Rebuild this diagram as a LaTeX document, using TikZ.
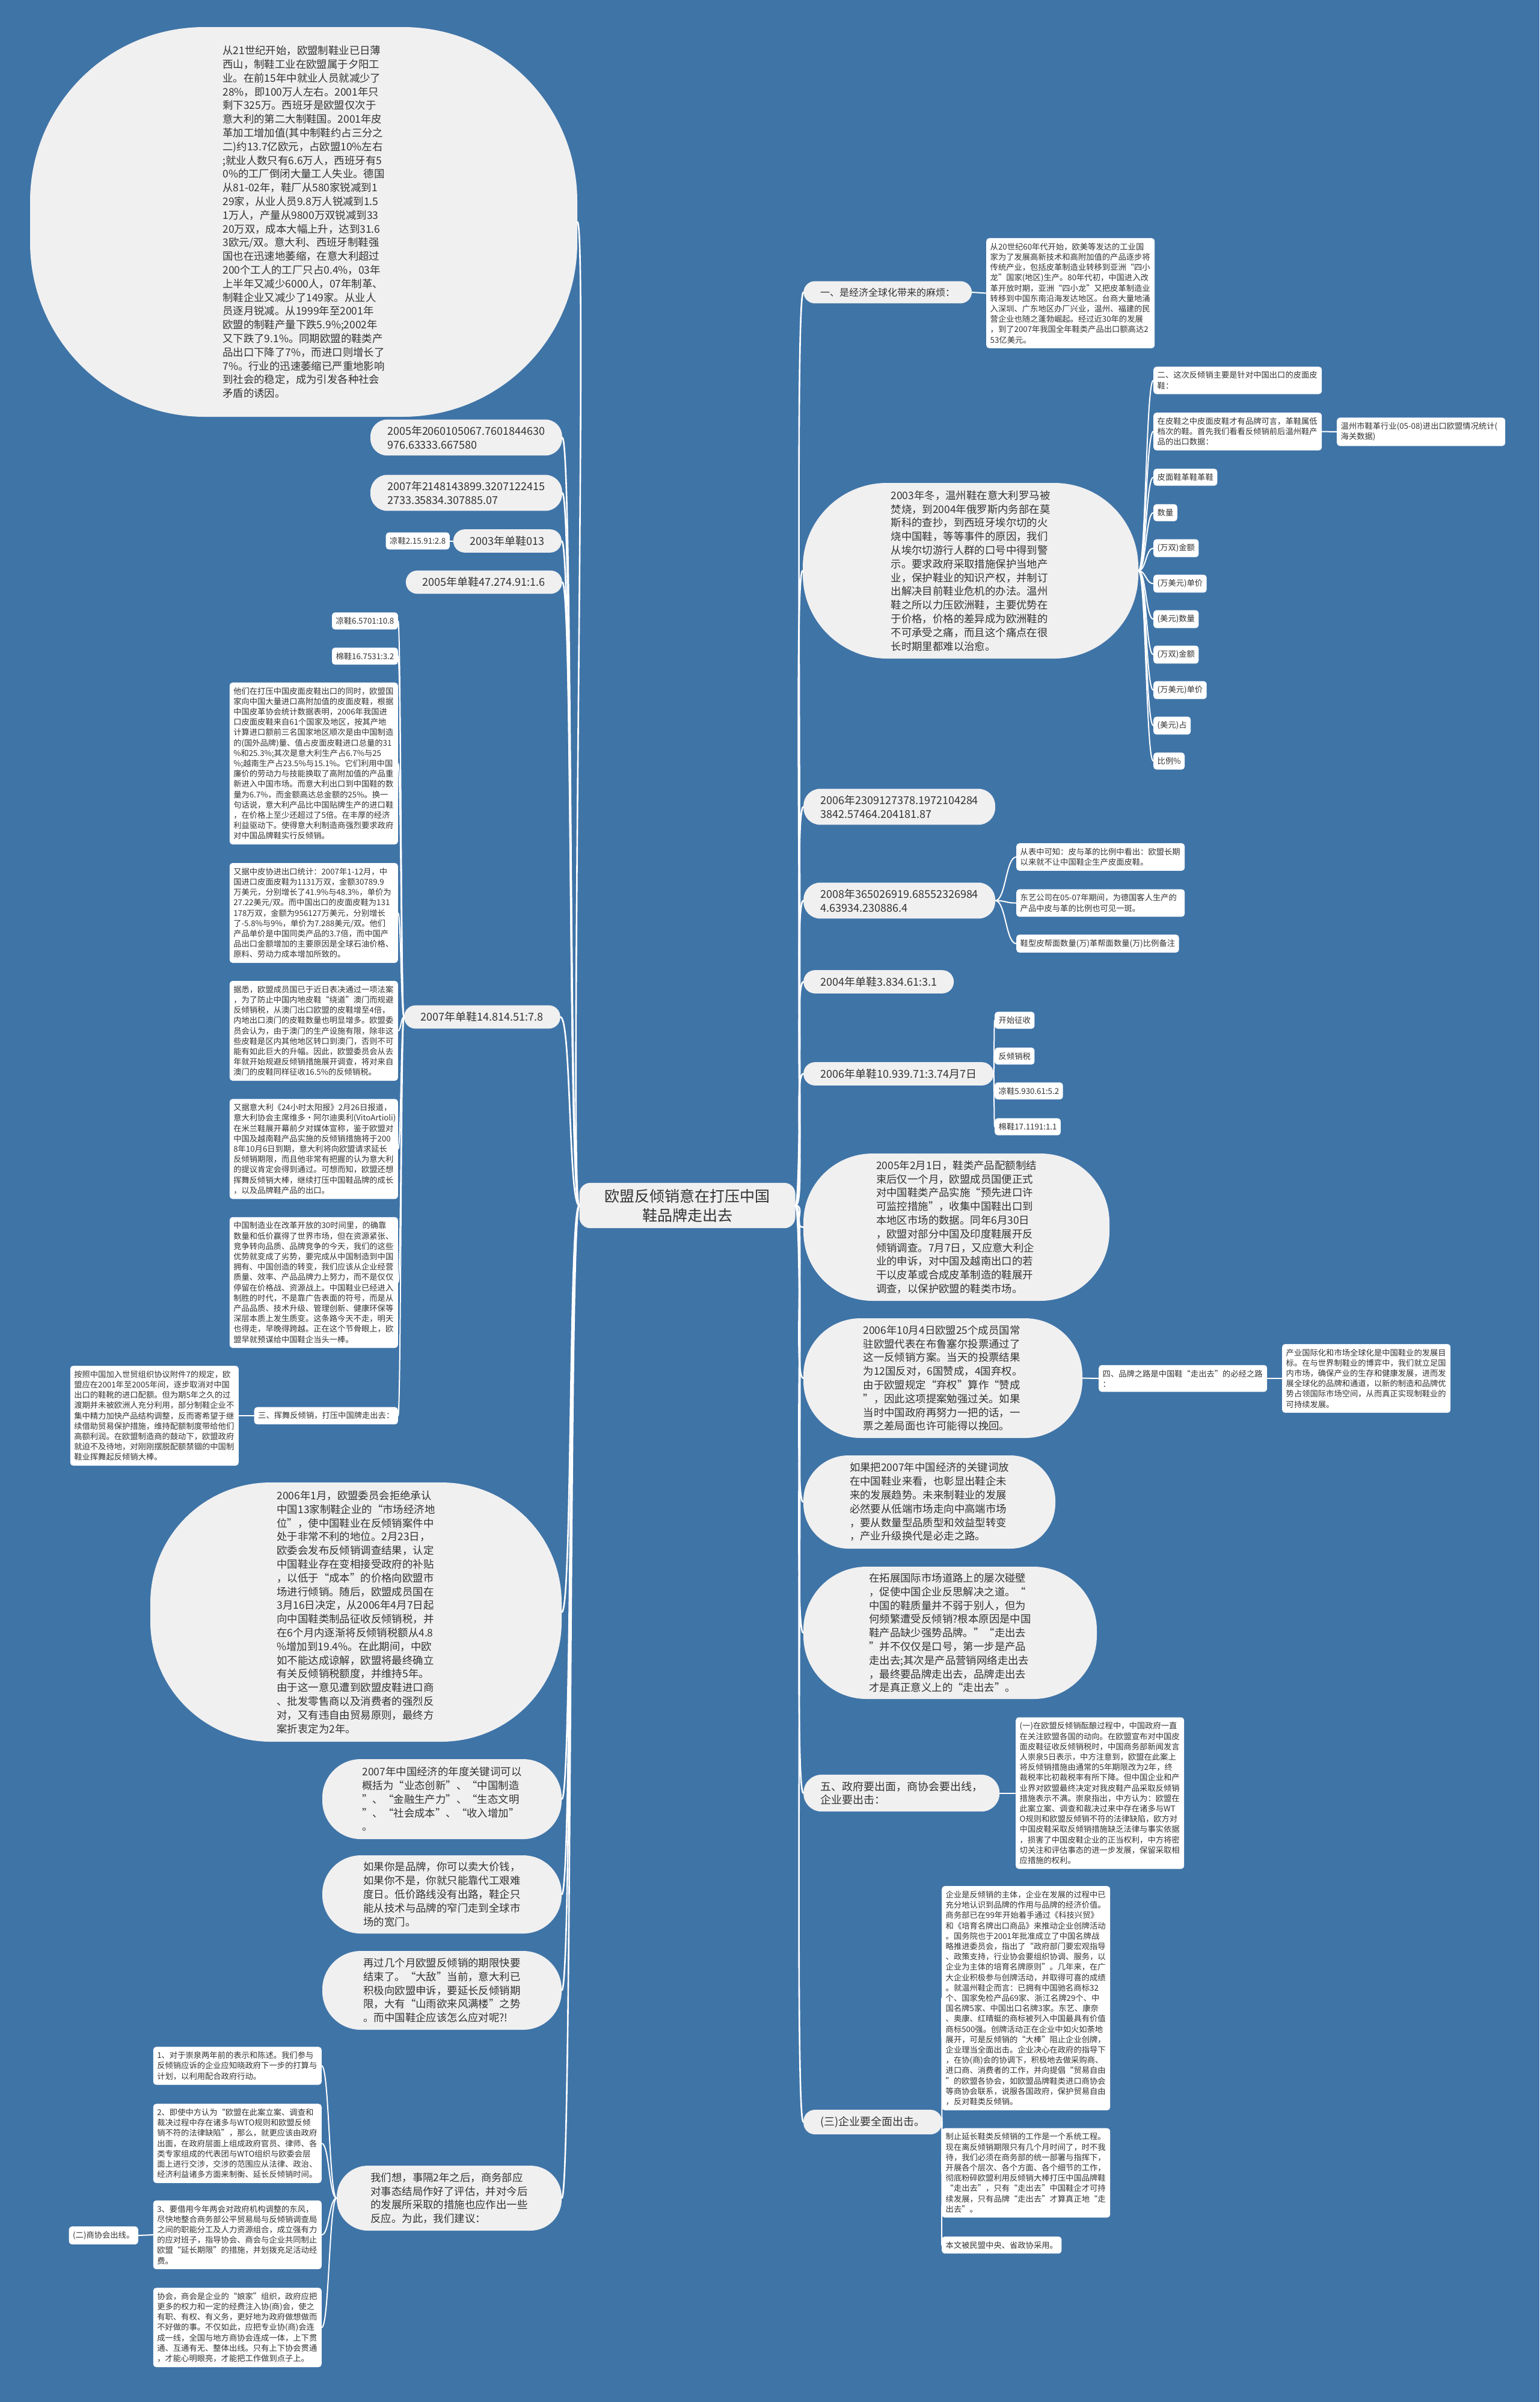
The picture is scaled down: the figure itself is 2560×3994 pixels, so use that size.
\documentclass[tikz,border=0pt]{standalone}
\usepackage{fontspec}
\setmainfont{Noto Sans CJK SC}
\usetikzlibrary{calc}
\definecolor{bgblue}{RGB}{63,116,167}
\definecolor{nodegray}{RGB}{240,240,240}
\definecolor{inkgray}{RGB}{51,51,51}

\begin{document}
\begin{tikzpicture}[x=1pt,y=-1pt,line cap=round,line join=round,
  every node/.style={text=inkgray,inner sep=0pt},
  root/.style={fill=nodegray,rounded corners=18pt,align=center,inner xsep=42pt,inner ysep=10pt,font=\fontsize{25}{32}\selectfont},
  pill/.style={fill=nodegray,rounded corners=19pt,align=left,inner xsep=28pt,inner ysep=11pt,font=\fontsize{18}{22.5}\selectfont},
  blob/.style={fill=nodegray,align=left,font=\fontsize{17.4}{22.8}\selectfont},
  leaf/.style={fill=white,rounded corners=5pt,align=left,inner xsep=6.5pt,inner ysep=8pt,font=\fontsize{13.3}{17.2}\selectfont},
  note/.style={leaf,text width=267pt},
  link/.style={draw=white,line width=2.6pt},
  twig/.style={draw=white,line width=2pt}]
\fill[bgblue] (0,0) rectangle (2560,3994);
\useasboundingbox (0,0) rectangle (2560,3994);

% centre
\node[root] (root) at (1143,2004.5) {欧盟反倾销意在打压中国\\鞋品牌走出去};

% right side
\node[pill,anchor=west,font=\fontsize{16}{20}\selectfont] (r1) at (1336,486) {一、是经济全球化带来的麻烦：};
\node[note,anchor=west] (r1a) at (1640,487.5) {从20世纪60年代开始，欧美等发达的工业国\\家为了发展高新技术和高附加值的产品逐步将\\传统产业，包括皮革制造业转移到亚洲“四小\\龙”国家(地区)生产。80年代初，中国进入改\\革开放时期，亚洲“四小龙”又把皮革制造业\\转移到中国东南沿海发达地区。台商大量地涌\\入深圳、广东地区办厂兴业，温州、福建的民\\营企业也随之蓬勃崛起。经过近30年的发展\\，到了2007年我国全年鞋类产品出口额高达2\\53亿美元。};

\node[blob,rounded corners=140pt,minimum width=558pt,minimum height=292pt] (r2) at (1614,949) {2003年冬，温州鞋在意大利罗马被\\焚烧，到2004年俄罗斯内务部在莫\\斯科的查抄，到西班牙埃尔切的火\\烧中国鞋，等等事件的原因，我们\\从埃尔切游行人群的口号中得到警\\示。要求政府采取措施保护当地产\\业，保护鞋业的知识产权，并制订\\出解决目前鞋业危机的办法。温州\\鞋之所以力压欧洲鞋，主要优势在\\于价格，价格的差异成为欧洲鞋的\\不可承受之痛，而且这个痛点在很\\长时期里都难以治愈。};
\node[note,anchor=west] (r2a) at (1918,632.5) {二、这次反倾销主要是针对中国出口的皮面皮\\鞋：};
\node[note,anchor=west] (r2b) at (1918,717.5) {在皮鞋之中皮面皮鞋才有品牌可言，革鞋属低\\档次的鞋。首先我们看看反倾销前后温州鞋产\\品的出口数据：};
\node[note,anchor=west] (r2b1) at (2223,718) {温州市鞋革行业(05-08)进出口欧盟情况统计(\\海关数据)};
\foreach \txt [count=\i] in {皮面鞋革鞋革鞋,数量,{(万双)金额},{(万美元)单价},{(美元)数量},{(万双)金额},{(万美元)单价},{(美元)占},比例\%}
{
  \node[leaf,anchor=west] (r2-\i) at (1918,{734.5+59*\i}) {\txt};
  \draw[twig] let \p1=(r2.east), \p2=(r2-\i.west) in (\p1) .. controls ({0.5*\x1+0.5*\x2},\y1) and ({0.5*\x1+0.5*\x2},\y2) .. (\p2);
}

\node[pill,anchor=west,rounded corners=28pt] (r3) at (1336,1341.5) {2006年2309127378.1972104284\\3842.57464.204181.87};
\node[pill,anchor=west,rounded corners=28pt] (r4) at (1336,1497.5) {2008年365026919.68552326984\\4.63934.230886.4};
\node[note,anchor=west] (r4a) at (1690,1425) {从表中可知：皮与革的比例中看出：欧盟长期\\以来就不让中国鞋企生产皮面皮鞋。};
\node[note,anchor=west] (r4b) at (1690,1501.5) {东艺公司在05-07年期间，为德国客人生产的\\产品中皮与革的比例也可见一斑。};
\node[leaf,anchor=west] (r4c) at (1690,1569) {鞋型皮帮面数量(万)革帮面数量(万)比例备注};
\node[pill,anchor=west] (r5) at (1336,1632.5) {2004年单鞋3.834.61:3.1};
\node[pill,anchor=west] (r6) at (1336,1785.5) {2006年单鞋10.939.71:3.74月7日};
\node[leaf,anchor=west] (r6a) at (1654,1696.5) {开始征收};
\node[leaf,anchor=west] (r6b) at (1654,1756) {反倾销税};
\node[leaf,anchor=west] (r6c) at (1654,1814) {凉鞋5.930.61:5.2};
\node[leaf,anchor=west] (r6d) at (1654,1873.5) {棉鞋17.1191:1.1};

\node[blob,rounded corners=115pt,minimum width=509pt,minimum height=245pt] (r7) at (1590.5,2040.5) {2005年2月1日，鞋类产品配额制结\\束后仅一个月，欧盟成员国便正式\\对中国鞋类产品实施“预先进口许\\可监控措施”，收集中国鞋出口到\\本地区市场的数据。同年6月30日\\，欧盟对部分中国及印度鞋展开反\\倾销调查。7月7日，又应意大利企\\业的申诉，对中国及越南出口的若\\干以皮革或合成皮革制造的鞋展开\\调查，以保护欧盟的鞋类市场。};
\node[blob,rounded corners=95pt,minimum width=464pt,minimum height=199pt] (r8) at (1568,2291.5) {2006年10月4日欧盟25个成员国常\\驻欧盟代表在布鲁塞尔投票通过了\\这一反倾销方案。当天的投票结果\\为12国反对，6国赞成，4国弃权。\\由于欧盟规定“弃权”算作“赞成\\”，因此这项提案勉强过关。如果\\当时中国政府再努力一把的话，一\\票之差局面也许可能得以挽回。};
\node[note,anchor=west] (r8a) at (1827,2292) {四、品牌之路是中国鞋“走出去”的必经之路\\：};
\node[note,anchor=west] (r8b) at (2132,2292) {产业国际化和市场全球化是中国鞋业的发展目\\标。在与世界制鞋业的博弈中，我们就立足国\\内市场，确保产业的生存和健康发展，进而发\\展全球化的品牌和通道，以新的制造和品牌优\\势占领国际市场空间，从而真正实现制鞋业的\\可持续发展。};
\node[blob,rounded corners=75pt,minimum width=419pt,minimum height=155pt] (r9) at (1545.5,2497.5) {如果把2007年中国经济的关键词放\\在中国鞋业来看，也彰显出鞋企未\\来的发展趋势。未来制鞋业的发展\\必然要从低端市场走向中高端市场\\，要从数量型品质型和效益型转变\\，产业升级换代是必走之路。};
\node[blob,rounded corners=105pt,minimum width=488pt,minimum height=220pt] (r10) at (1580,2715) {在拓展国际市场道路上的屡次碰壁\\，促使中国企业反思解决之道。“\\中国的鞋质量并不弱于别人，但为\\何频繁遭受反倾销?根本原因是中国\\鞋产品缺少强势品牌。”“走出去\\”并不仅仅是口号，第一步是产品\\走出去;其次是产品营销网络走出去\\，最终要品牌走出去，品牌走出去\\才是真正意义上的“走出去”。};
\node[pill,anchor=west,rounded corners=30pt] (r11) at (1336,2981.5) {五、政府要出面，商协会要出线，\\企业要出击：};
\node[note,anchor=west] (r11a) at (1689,2981.5) {(一)在欧盟反倾销酝酿过程中，中国政府一直\\在关注欧盟各国的动向。在欧盟宣布对中国皮\\面皮鞋征收反倾销税时，中国商务部新闻发言\\人崇泉5日表示，中方注意到，欧盟在此案上\\将反倾销措施由通常的5年期限改为2年，终\\裁税率比初裁税率有所下降。但中国企业和产\\业界对欧盟最终决定对我皮鞋产品采取反倾销\\措施表示不满。崇泉指出，中方认为：欧盟在\\此案立案、调查和裁决过来中存在诸多与WT\\O规则和欧盟反倾销不符的法律缺陷，欧方对\\中国皮鞋采取反倾销措施缺乏法律与事实依据\\，损害了中国皮鞋企业的正当权利，中方将密\\切关注和评估事态的进一步发展，保留采取相\\应措施的权利。};
\node[pill,anchor=west] (r12) at (1336,3528.5) {(三)企业要全面出击。};
\node[note,anchor=west] (r12a) at (1566,3322.5) {企业是反倾销的主体，企业在发展的过程中已\\充分地认识到品牌的作用与品牌的经济价值。\\商务部已在99年开始着手通过《科技兴贸》\\和《培育名牌出口商品》来推动企业创牌活动\\。国务院也于2001年批准成立了中国名牌战\\略推进委员会，指出了“政府部门要宏观指导\\、政策支持，行业协会要组织协调、服务，以\\企业为主体的培育名牌原则”。几年来，在广\\大企业积极参与创牌活动，并取得可喜的成绩\\。就温州鞋企而言：已拥有中国驰名商标32\\个、国家免检产品69家、浙江名牌29个、中\\国名牌5家、中国出口名牌3家。东艺、康奈\\、奥康、红晴蜓的商标被列入中国最具有价值\\商标500强。创牌活动正在企业中如火如荼地\\展开，可是反倾销的“大棒”阻止企业创牌，\\企业理当全面出击。企业决心在政府的指导下\\，在协(商)会的协调下，积极地去做采购商、\\进口商、消费者的工作，并向提倡“贸易自由\\”的欧盟各协会，如欧盟品牌鞋类进口商协会\\等商协会联系，说服各国政府，保护贸易自由\\，反对鞋类反倾销。};
\node[note,anchor=west] (r12b) at (1566,3613) {制止延长鞋类反倾销的工作是一个系统工程。\\现在离反倾销期限只有几个月时间了，时不我\\待，我们必须在商务部的统一部署与指挥下，\\开展各个层次、各个方面、各个细节的工作，\\彻底粉碎欧盟利用反倾销大棒打压中国品牌鞋\\“走出去”，只有“走出去”中国鞋企才可持\\续发展，只有品牌“走出去”才算真正地“走\\出去”。};
\node[leaf,anchor=west] (r12c) at (1566,3733) {本文被民盟中央、省政协采用。};

% left side
\node[blob,rounded corners=290pt,minimum width=910pt,minimum height=648pt] (l1) at (505,369) {从21世纪开始，欧盟制鞋业已日薄\\西山，制鞋工业在欧盟属于夕阳工\\业。在前15年中就业人员就减少了\\28\%，即100万人左右。2001年只\\剩下325万。西班牙是欧盟仅次于\\意大利的第二大制鞋国。2001年皮\\革加工增加值(其中制鞋约占三分之\\二)约13.7亿欧元，占欧盟10\%左右\\;就业人数只有6.6万人，西班牙有5\\0\%的工厂倒闭大量工人失业。德国\\从81-02年，鞋厂从580家锐减到1\\29家，从业人员9.8万人锐减到1.5\\1万人，产量从9800万双锐减到33\\20万双，成本大幅上升，达到31.6\\3欧元/双。意大利、西班牙制鞋强\\国也在迅速地萎缩，在意大利超过\\200个工人的工厂只占0.4\%，03年\\上半年又减少6000人，07年制革、\\制鞋企业又减少了149家。从业人\\员逐月锐减。从1999年至2001年\\欧盟的制鞋产量下跌5.9\%;2002年\\又下跌了9.1\%。同期欧盟的鞋类产\\品出口下降了7\%，而进口则增长了\\7\%。行业的迅速萎缩已严重地影响\\到社会的稳定，成为引发各种社会\\矛盾的诱因。};
\node[pill,anchor=east,rounded corners=28pt] (l2) at (935,727.5) {2005年2060105067.7601844630\\976.63333.667580};
\node[pill,anchor=east,rounded corners=28pt] (l3) at (935,819.5) {2007年2148143899.3207122415\\2733.35834.307885.07};
\node[pill,anchor=east] (l4) at (934,899.5) {2003年单鞋013};
\node[leaf,anchor=east] (l4a) at (748,899.5) {凉鞋2.15.91:2.8};
\node[pill,anchor=east] (l5) at (935,968) {2005年单鞋47.274.91:1.6};
\node[pill,anchor=east] (l6) at (932,1691) {2007年单鞋14.814.51:7.8};
\node[leaf,anchor=east] (l6a) at (662,1032.5) {凉鞋6.5701:10.8};
\node[leaf,anchor=east] (l6b) at (662,1091) {棉鞋16.7531:3.2};
\node[note,anchor=east] (l6c) at (662,1269.5) {他们在打压中国皮面皮鞋出口的同时，欧盟国\\家向中国大量进口高附加值的皮面皮鞋，根据\\中国皮革协会统计数据表明，2006年我国进\\口皮面皮鞋来自61个国家及地区，按其产地\\计算进口额前三名国家地区顺次是由中国制造\\的(国外品牌)量、值占皮面皮鞋进口总量的31\\\%和25.3\%;其次是意大利生产占6.7\%与25\\\%;越南生产占23.5\%与15.1\%。它们利用中国\\廉价的劳动力与技能换取了高附加值的产品重\\新进入中国市场。而意大利出口到中国鞋的数\\量为6.7\%，而金额高达总金额的25\%。换一\\句话说，意大利产品比中国贴牌生产的进口鞋\\，在价格上至少还超过了5倍。在丰厚的经济\\利益驱动下。使得意大利制造商强烈要求政府\\对中国品牌鞋实行反倾销。};
\node[note,anchor=east] (l6d) at (662,1518) {又据中皮协进出口统计：2007年1-12月，中\\国进口皮面皮鞋为1131万双，金额30789.9\\万美元，分别增长了41.9\%与48.3\%，单价为\\27.22美元/双。而中国出口的皮面皮鞋为131\\178万双，金额为956127万美元，分别增长\\了-5.8\%与9\%，单价为7.288美元/双。他们\\产品单价是中国同类产品的3.7倍，而中国产\\品出口金额增加的主要原因是全球石油价格、\\原料、劳动力成本增加所致的。};
\node[note,anchor=east] (l6e) at (662,1714) {据悉，欧盟成员国已于近日表决通过一项法案\\，为了防止中国内地皮鞋“绕道”澳门而规避\\反倾销税，从澳门出口欧盟的皮鞋增至4倍，\\内地出口澳门的皮鞋数量也明显增多。欧盟委\\员会认为，由于澳门的生产设施有限，除非这\\些皮鞋是区内其他地区转口到澳门，否则不可\\能有如此巨大的升幅。因此，欧盟委员会从去\\年就开始规避反倾销措施展开调查，将对来自\\澳门的皮鞋同样征收16.5\%的反倾销税。};
\node[note,anchor=east] (l6f) at (662,1910.5) {又据意大利《24小时太阳报》2月26日报道，\\意大利协会主席维多·阿尔迪奥利(VitoArtioli)\\在米兰鞋展开幕前夕对媒体宣称，鉴于欧盟对\\中国及越南鞋产品实施的反倾销措施将于200\\8年10月6日到期，意大利将向欧盟请求延长\\反倾销期限，而且他非常有把握的认为意大利\\的提议肯定会得到通过。可想而知，欧盟还想\\挥舞反倾销大棒，继续打压中国鞋品牌的成长\\，以及品牌鞋产品的出口。};
\node[note,anchor=east] (l6g) at (662,2132.5) {中国制造业在改革开放的30时间里，的确靠\\数量和低价赢得了世界市场，但在资源紧张、\\竞争转向品质、品牌竞争的今天，我们的这些\\优势就变成了劣势，要完成从中国制造到中国\\拥有、中国创造的转变，我们应该从企业经营\\质量、效率、产品品牌力上努力，而不是仅仅\\停留在价格战、资源战上。中国鞋业已经进入\\制胜的时代，不是靠广告表面的符号，而是从\\产品品质、技术升级、管理创新、健康环保等\\深层本质上发生质变。这条路今天不走，明天\\也得走，早晚得跨越。正在这个节骨眼上，欧\\盟早就预谋给中国鞋企当头一棒。};
\node[leaf,anchor=east] (l6h) at (662,2354) {三、挥舞反倾销，打压中国牌走出去：};
\node[note,anchor=east] (l6h1) at (397,2354) {按照中国加入世贸组织协议附件7的规定，欧\\盟应在2001年至2005年间，逐步取消对中国\\出口的鞋靴的进口配额。但为期5年之久的过\\渡期并未被欧洲人充分利用，部分制鞋企业不\\集中精力加快产品结构调整，反而寄希望于继\\续借助贸易保护措施，维持配额制度带给他们\\高额利润。在欧盟制造商的鼓动下，欧盟政府\\就迫不及待地，对刚刚摆脱配额禁锢的中国制\\鞋业挥舞起反倾销大棒。};

\node[blob,rounded corners=200pt,minimum width=684pt,minimum height=431pt] (e1) at (592,2680.5) {2006年1月，欧盟委员会拒绝承认\\中国13家制鞋企业的“市场经济地\\位”，使中国鞋业在反倾销案件中\\处于非常不利的地位。2月23日，\\欧委会发布反倾销调查结果，认定\\中国鞋业存在变相接受政府的补贴\\，以低于“成本”的价格向欧盟市\\场进行倾销。随后，欧盟成员国在\\3月16日决定，从2006年4月7日起\\向中国鞋类制品征收反倾销税，并\\在6个月内逐渐将反倾销税额从4.8\\\%增加到19.4\%。在此期间，中欧\\如不能达成谅解，欧盟将最终确立\\有关反倾销税额度，并维持5年。\\由于这一意见遭到欧盟皮鞋进口商\\、批发零售商以及消费者的强烈反\\对，又有违自由贸易原则，最终方\\案折衷定为2年。};
\node[blob,rounded corners=64pt,minimum width=398pt,minimum height=133pt] (e2) at (735,2991.5) {2007年中国经济的年度关键词可以\\概括为“业态创新”、“中国制造\\”、“金融生产力”、“生态文明\\”、“社会成本”、“收入增加”\\。};
\node[blob,rounded corners=64pt,minimum width=398pt,minimum height=130pt] (e3) at (735,3150) {如果你是品牌，你可以卖大价钱，\\如果你不是，你就只能靠代工艰难\\度日。低价路线没有出路，鞋企只\\能从技术与品牌的窄门走到全球市\\场的宽门。};
\node[blob,rounded corners=64pt,minimum width=398pt,minimum height=131pt] (e4) at (735,3309.5) {再过几个月欧盟反倾销的期限快要\\结束了。“大敌”当前，意大利已\\积极向欧盟申诉，要延长反倾销期\\限，大有“山雨欲来风满楼”之势\\。而中国鞋企应该怎么应对呢?!};
\node[blob,rounded corners=52pt,minimum width=374pt,minimum height=108pt] (e5) at (747,3655) {我们想，事隔2年之后，商务部应\\对事态结局作好了评估，并对今后\\的发展所采取的措施也应作出一些\\反应。为此，我们建议：};
\node[note,anchor=east] (e5a) at (535,3435) {1、对于崇泉两年前的表示和陈述。我们参与\\反倾销应诉的企业应知晓政府下一步的打算与\\计划，以利用配合政府行动。};
\node[note,anchor=east] (e5b) at (535,3564) {2、即使中方认为“欧盟在此案立案、调查和\\裁决过程中存在诸多与WTO规则和欧盟反倾\\销不符的法律缺陷”，那么，就更应该由政府\\出面，在政府层面上组成政府官员、律师、各\\类专家组成的代表团与WTO组织与欧委会层\\面上进行交涉，交涉的范围应从法律、政治、\\经济利益诸多方面来制衡、延长反倾销时间。};
\node[note,anchor=east] (e5c) at (535,3716) {3、要借用今年两会对政府机构调整的东风，\\尽快地整合商务部公平贸易局与反倾销调查局\\之间的职能分工及人力资源组合，成立强有力\\的应对班子，指导协会、商会与企业共同制止\\欧盟“延长期限”的措施，并划拨充足活动经\\费。};
\node[leaf,anchor=east] (e5c1) at (230,3717) {(二)商协会出线。};
\node[note,anchor=east] (e5d) at (535,3870) {协会，商会是企业的“娘家”组织，政府应把\\更多的权力和一定的经费注入协(商)会，使之\\有职、有权、有义务，更好地为政府做想做而\\不好做的事。不仅如此，应把专业协(商)会连\\成一线，全国与地方商协会连成一体，上下贯\\通、互通有无、整体出线。只有上下协会贯通\\，才能心明眼亮，才能把工作做到点子上。};

% connectors
\foreach \kid in {r1,r2,r3,r4,r5,r6,r7,r8,r9,r10,r11,r12}
  \draw[link] (root.east) .. controls +(18,0) and +(-18,0) .. (\kid.west);
\foreach \kid in {l1,l2,l3,l4,l5,l6,e1,e2,e3,e4,e5}
  \draw[link] (root.west) .. controls +(-18,0) and +(18,0) .. (\kid.east);
\foreach \mum/\kid in {r1/r1a,r2/r2a,r2/r2b,r2b/r2b1,r4/r4a,r4/r4b,r4/r4c,r6/r6a,r6/r6b,r6/r6c,r6/r6d,r8/r8a,r8a/r8b,r11/r11a,r12/r12a,r12/r12b,r12/r12c}
  \draw[twig] let \p1=(\mum.east), \p2=(\kid.west) in (\p1) .. controls ({0.5*\x1+0.5*\x2},\y1) and ({0.5*\x1+0.5*\x2},\y2) .. (\p2);
\foreach \mum/\kid in {l4/l4a,l6/l6a,l6/l6b,l6/l6c,l6/l6d,l6/l6e,l6/l6f,l6/l6g,l6/l6h,l6h/l6h1,e5/e5a,e5/e5b,e5/e5c,e5/e5d,e5c/e5c1}
  \draw[twig] let \p1=(\mum.west), \p2=(\kid.east) in (\p1) .. controls ({0.5*\x1+0.5*\x2},\y1) and ({0.5*\x1+0.5*\x2},\y2) .. (\p2);
\end{tikzpicture}
\end{document}
